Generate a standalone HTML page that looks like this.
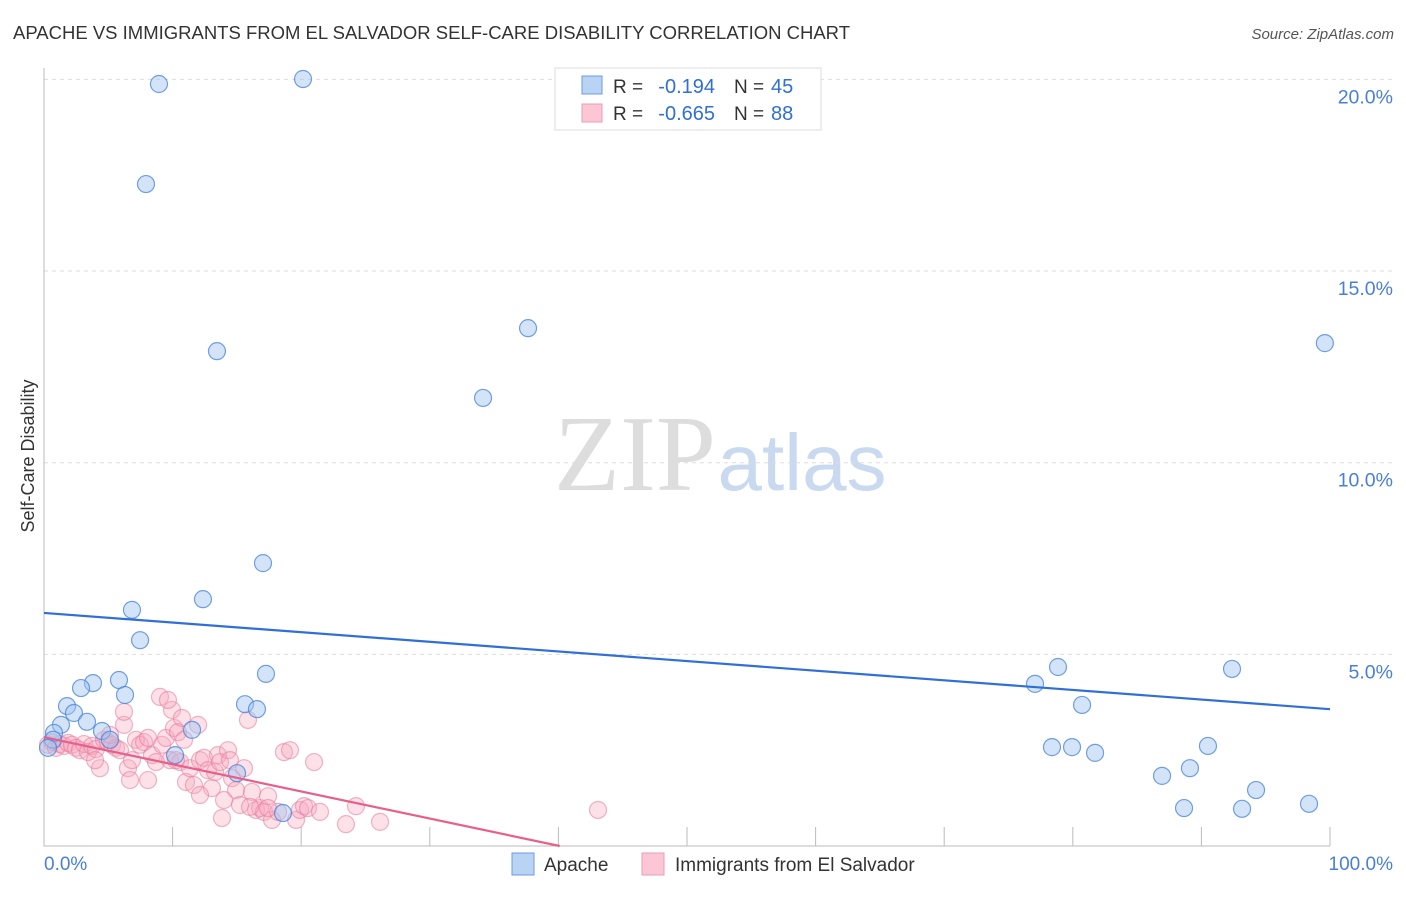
<!DOCTYPE html>
<html><head><meta charset="utf-8"><style>
body{margin:0;background:#fff;font-family:"Liberation Sans",sans-serif}
#c{position:relative;width:1406px;height:892px}
</style></head><body><div id="c">
<svg id="s" width="1406" height="892" xmlns="http://www.w3.org/2000/svg">
<text x="13" y="39" font-size="18" fill="#333" textLength="837" lengthAdjust="spacingAndGlyphs">APACHE VS IMMIGRANTS FROM EL SALVADOR SELF-CARE DISABILITY CORRELATION CHART</text>
<text x="1394" y="39" font-size="15" fill="#555" font-style="italic" text-anchor="end">Source: ZipAtlas.com</text>
<text x="635" y="490" font-size="108" fill="#ddd" font-family="Liberation Serif,serif" text-anchor="middle">ZIP</text>
<text x="802" y="490" font-size="80" fill="#c8d9f0" text-anchor="middle">atlas</text>
<text transform="translate(34,456) rotate(-90)" font-size="18" fill="#333" text-anchor="middle">Self-Care Disability</text>
<g id="grid"></g><g id="marks"></g>
<text x="44" y="870" font-size="19" fill="#4a7fd6">0.0%</text>
<text x="1393" y="870" font-size="19" fill="#4a7fd6" text-anchor="end">100.0%</text>
<g>
<rect x="555" y="68" width="266" height="62" fill="#fff" stroke="#ddd"/>
<rect x="582" y="76" width="20" height="18" fill="#b8d3f4" stroke="#6c9be0"/>
<rect x="582" y="104" width="20" height="18" fill="#fcc6d6" stroke="#ec9cb5"/>
<text x="613" y="93" font-size="19" fill="#333">R =</text>
<text x="715" y="93" font-size="20" fill="#2f6fd6" text-anchor="end">-0.194</text>
<text x="734" y="93" font-size="19" fill="#333">N =</text>
<text x="771" y="93" font-size="20" fill="#2f6fd6">45</text>
<text x="613" y="120" font-size="19" fill="#333">R =</text>
<text x="715" y="120" font-size="20" fill="#2f6fd6" text-anchor="end">-0.665</text>
<text x="734" y="120" font-size="19" fill="#333">N =</text>
<text x="771" y="120" font-size="20" fill="#2f6fd6">88</text>
</g>
<g>
<rect x="512" y="853" width="22" height="22" fill="#b8d3f4" stroke="#6c9be0"/>
<text x="544" y="871" font-size="19" fill="#333">Apache</text>
<rect x="642" y="853" width="22" height="22" fill="#fcc6d6" stroke="#ec9cb5"/>
<text x="675" y="871" font-size="19" fill="#333">Immigrants from El Salvador</text>
</g>
</svg></div>
<script>
const yTicks=[5,10,15,20];
const yTickLabels=["5.0%","10.0%","15.0%","20.0%"];
const xTicks=[10,20,30,40,50,60,70,80,90,100];
const apacheX=[8.94,20.14,7.93,13.45,37.64,34.14,99.6,17.03,12.36,6.84,7.47,17.26,3.81,5.83,2.88,6.30,1.79,2.33,15.63,16.56,1.32,3.34,0.78,4.51,11.51,0.70,5.13,10.19,15.01,18.58,78.85,77.06,80.72,92.38,78.38,79.94,81.73,90.51,86.94,89.11,94.25,88.65,93.16,98.37,0.31];
const apacheY=[19.88,20.01,17.27,12.91,13.51,11.69,13.12,7.38,6.44,6.16,5.37,4.49,4.25,4.33,4.12,3.94,3.65,3.47,3.70,3.57,3.16,3.24,2.95,3.00,3.03,2.77,2.77,2.37,1.90,0.86,4.67,4.23,3.68,4.62,2.58,2.58,2.43,2.61,1.83,2.03,1.46,0.99,0.97,1.10,2.56];
const salvX=[0.31,0.62,0.93,1.24,1.56,1.87,2.18,2.49,2.80,3.11,3.42,3.73,4.04,4.35,4.67,4.98,5.29,5.60,5.91,6.22,6.22,6.53,6.84,7.15,7.47,7.78,8.09,8.40,8.71,9.02,9.18,9.49,9.80,9.95,10.11,10.42,10.58,10.89,11.04,11.35,11.66,11.98,12.13,12.44,12.75,13.06,13.30,13.53,13.69,14.00,14.31,14.62,14.93,15.24,15.55,15.86,16.17,16.49,16.80,17.11,17.42,17.73,18.20,18.66,19.13,19.60,19.91,20.22,20.53,21.00,21.46,23.48,24.26,26.13,43.08,13.84,16.02,10.73,9.64,5.13,3.97,8.09,14.46,17.42,12.13,10.26,6.69];
const salvY=[2.64,2.71,2.56,2.66,2.61,2.69,2.64,2.56,2.50,2.66,2.45,2.61,2.53,2.03,2.77,2.71,2.64,2.56,2.50,3.16,3.50,2.03,2.24,2.77,2.64,2.71,2.82,2.37,2.19,3.89,2.64,2.82,2.24,3.55,3.08,2.97,2.19,2.77,1.67,2.03,1.59,3.16,2.24,2.30,1.98,1.51,1.93,2.37,2.19,1.20,2.50,1.77,1.46,1.07,2.03,3.29,1.41,0.94,0.99,0.89,1.30,0.68,0.89,2.45,2.50,0.68,0.94,1.04,0.99,2.19,0.89,0.57,1.04,0.63,0.94,0.73,1.02,3.34,3.81,2.90,2.24,1.72,2.24,0.99,1.33,2.24,1.72];
const apacheTrend=[6.08,3.57];
const salvTrend=[2.84,0.0];
const salvTrendEnd=40.1;
const X=v=>44+v*12.86, Y=v=>846-v*38.33;
const NS="http://www.w3.org/2000/svg";
function mk(t,a,p){const e=document.createElementNS(NS,t);for(const k in a)e.setAttribute(k,a[k]);p.appendChild(e);return e;}
const g=document.getElementById('grid'), m=document.getElementById('marks');
yTicks.forEach((t,i)=>{
 const l=mk('line',{x1:44,x2:1392,y1:Y(t),y2:Y(t),stroke:'#ddd','stroke-dasharray':'4,4'},g);
 
 
 const tx=mk('text',{x:1393,y:Y(t)+24,'font-size':19.5,fill:'#4a7fd6','text-anchor':'end'},g);
 tx.textContent=yTickLabels[i];
 
 
});
const ax=mk('path',{d:`M44 68V846H1330`,fill:'none',stroke:'#bbb'},g);


xTicks.forEach(t=>{
 const l=mk('line',{x1:X(t),x2:X(t),y1:827,y2:846,stroke:'#bbb'},g);
 
 
});
salvX.forEach((x,i)=>{
 const c=mk('circle',{cx:X(x),cy:Y(salvY[i]),r:8.5,fill:'rgba(246,170,192,0.35)',stroke:'rgba(232,120,155,0.55)','stroke-width':1.2},m);
 
 
});
apacheX.forEach((x,i)=>{
 const c=mk('circle',{cx:X(x),cy:Y(apacheY[i]),r:8.5,fill:'rgba(160,196,240,0.45)',stroke:'rgba(70,130,215,0.75)','stroke-width':1.2},m);
 
 
});
const l1=mk('line',{x1:X(0),y1:Y(apacheTrend[0]),x2:X(100),y2:Y(apacheTrend[1]),stroke:'#2f6fd6','stroke-width':2.2},m);


const l2=mk('line',{x1:X(0),y1:Y(salvTrend[0]),x2:X(salvTrendEnd),y2:Y(salvTrend[1]),stroke:'#e8608a','stroke-width':2.2},m);


</script></body></html>
